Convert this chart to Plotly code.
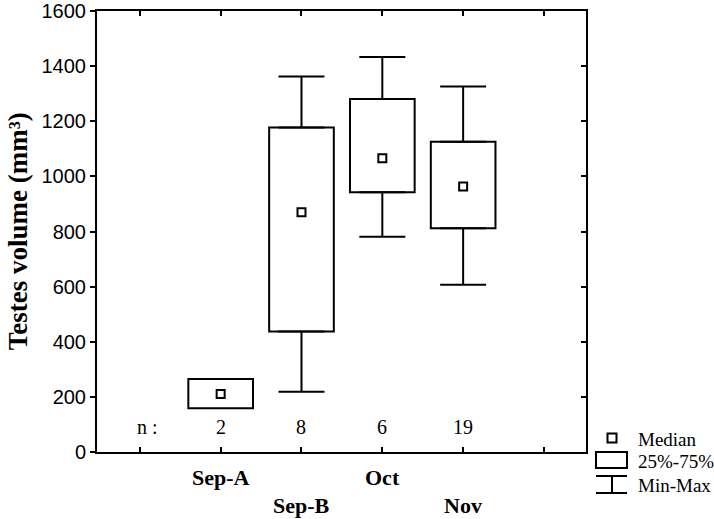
import plotly.graph_objects as go

# ---- data ----
categories = ["Sep-A", "Sep-B", "Oct", "Nov"]
positions = [1, 2, 3, 4]
q1 = [159, 437, 942, 812]
median = [210, 870, 1066, 963]
q3 = [265, 1177, 1281, 1126]
vmin = [None, 219, 781, 607]
vmax = [None, 1362, 1433, 1326]
n_counts = ["2", "8", "6", "19"]
label_rows = [0, 1, 0, 1]
yticks = [0, 200, 400, 600, 800, 1000, 1200, 1400, 1600]
xticks = [0, 1, 2, 3, 4, 5]

SERIF = "Liberation Serif"
SANS = "Liberation Sans"

fig = go.Figure()

# boxes (25%-75%)
fig.add_trace(go.Bar(
    x=positions, y=[b - a for a, b in zip(q1, q3)], base=q1, width=0.8,
    marker=dict(color="white", line=dict(color="black", width=2)),
    showlegend=False, hoverinfo="skip"))

# whiskers (min-max)
wx = [p for p, m in zip(positions, vmax) if m is not None]
up_y = [q for q, m in zip(q3, vmax) if m is not None]
up_len = [m - q for q, m in zip(q3, vmax) if m is not None]
lo_y = [q for q, m in zip(q1, vmin) if m is not None]
lo_len = [q - m for q, m in zip(q1, vmin) if m is not None]
fig.add_trace(go.Scatter(
    x=wx, y=up_y, mode="markers", marker=dict(size=1, opacity=0),
    error_y=dict(type="data", array=up_len, arrayminus=[0] * len(up_len),
                 color="black", thickness=2, width=23),
    showlegend=False, hoverinfo="skip"))
fig.add_trace(go.Scatter(
    x=wx, y=lo_y, mode="markers", marker=dict(size=1, opacity=0),
    error_y=dict(type="data", array=[0] * len(lo_len), arrayminus=lo_len,
                 color="black", thickness=2, width=23),
    showlegend=False, hoverinfo="skip"))

# medians
fig.add_trace(go.Scatter(
    x=positions, y=median, mode="markers",
    marker=dict(symbol="square", size=8, color="white",
                line=dict(color="black", width=2)),
    showlegend=False, hoverinfo="skip"))

# dummy for right axis
fig.add_trace(go.Scatter(x=[None], y=[None], yaxis="y2", showlegend=False,
                         hoverinfo="skip"))

annotations = []
# n labels
annotations.append(dict(x=0.09, y=91, xref="x", yref="y", text="n :",
                        showarrow=False, font=dict(family=SERIF, size=20, color="black")))
for p, n in zip(positions, n_counts):
    annotations.append(dict(x=p, y=91, xref="x", yref="y", text=n, showarrow=False,
                            font=dict(family=SERIF, size=20, color="black")))
# category labels (staggered)
for p, c, r in zip(positions, categories, label_rows):
    annotations.append(dict(x=p, y=0, xref="x", yref="paper", text="<b>%s</b>" % c,
                            showarrow=False, yanchor="middle",
                            yshift=-25 - 28 * r,
                            font=dict(family=SERIF, size=22, color="black")))
# y title
annotations.append(dict(x=-0.162, y=0.50, xref="paper", yref="paper",
                        text="<b>Testes volume (mm³)</b>", textangle=-90,
                        showarrow=False, xanchor="center", yanchor="middle",
                        font=dict(family=SERIF, size=27, color="black")))

# legend (drawn manually)
W, H = 489.0, 441.0
def px(xp):
    return (xp - 97) / W
def py(yp):
    return (452 - yp) / H

shapes = [
    dict(type="rect", xref="paper", yref="paper", x0=px(607.5), x1=px(616.5),
         y0=py(442.5), y1=py(433.5), line=dict(color="black", width=2), fillcolor="white"),
    dict(type="rect", xref="paper", yref="paper", x0=px(596), x1=px(627),
         y0=py(468), y1=py(452), line=dict(color="black", width=2), fillcolor="white"),
    dict(type="line", xref="paper", yref="paper", x0=px(596), x1=px(627),
         y0=py(476), y1=py(476), line=dict(color="black", width=2)),
    dict(type="line", xref="paper", yref="paper", x0=px(612), x1=px(612),
         y0=py(476), y1=py(493), line=dict(color="black", width=2)),
    dict(type="line", xref="paper", yref="paper", x0=px(596), x1=px(627),
         y0=py(493), y1=py(493), line=dict(color="black", width=2)),
]
for t, yy in [("Median", 439), ("25%-75%", 461), ("Min-Max", 485)]:
    annotations.append(dict(x=px(636), y=py(yy), xref="paper", yref="paper", text=t,
                            showarrow=False, xanchor="left", yanchor="middle",
                            font=dict(family=SERIF, size=19, color="black")))

fig.update_layout(
    width=714, height=519,
    margin=dict(l=97, r=128, t=11, b=67, autoexpand=False),
    paper_bgcolor="white", plot_bgcolor="white",
    showlegend=False,
    xaxis=dict(range=[-0.53, 5.52], tickvals=xticks, showticklabels=False,
               ticks="inside", ticklen=5, tickwidth=2, tickcolor="black",
               showline=True, linecolor="black", linewidth=2, mirror="ticks",
               showgrid=False, zeroline=False, automargin=False),
    yaxis=dict(range=[0, 1600], tickvals=yticks, ticks="outside", ticklen=5,
               tickwidth=2, tickcolor="black", showline=True, linecolor="black",
               linewidth=2, mirror=True, showgrid=False, zeroline=False,
               automargin=False,
               tickfont=dict(family=SANS, size=20, color="black")),
    yaxis2=dict(range=[0, 1600], tickvals=yticks, overlaying="y", side="right",
                anchor="x", ticks="inside", ticklen=5, tickwidth=2,
                tickcolor="black", showticklabels=False, showline=False,
                showgrid=False, zeroline=False, automargin=False),
    annotations=annotations,
    shapes=shapes,
)

fig.write_html("out.html", config={"displayModeBar": False},
               post_script="document.body.style.margin='0';document.body.style.overflow='hidden';")
